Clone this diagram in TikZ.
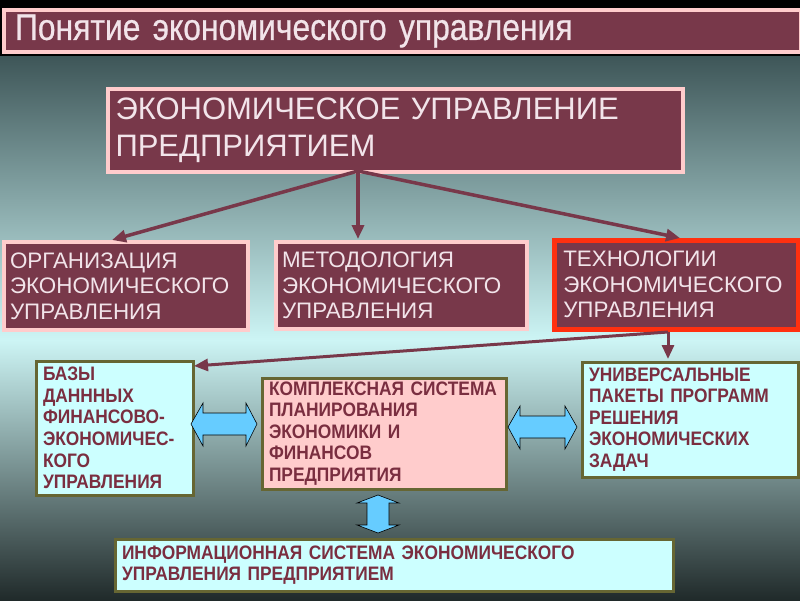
\documentclass[tikz,border=0pt]{standalone}
\usepackage{fontspec}
\setmainfont{Liberation Sans}
\newfontfamily\narrowfont[FakeStretch=0.89]{Liberation Sans}
\newfontfamily\titlefont[FakeStretch=0.86,FakeBold=0.6]{Liberation Sans}
\usetikzlibrary{arrows.meta,calc}
\definecolor{maroonfill}{RGB}{120,56,74}
\definecolor{pinkline}{RGB}{255,204,204}
\definecolor{lighttext}{RGB}{242,228,234}
\definecolor{techred}{RGB}{255,48,16}
\definecolor{cyanfill}{RGB}{204,255,255}
\definecolor{pinkfill}{RGB}{255,204,204}
\definecolor{olive}{RGB}{102,102,51}
\definecolor{darktext}{RGB}{122,46,64}
\definecolor{bgtop}{RGB}{62,86,88}
\definecolor{bgmid}{RGB}{205,245,245}
\definecolor{bgbot}{RGB}{32,42,42}
\definecolor{blockblue}{RGB}{102,204,255}
\tikzset{
  darkbox/.style={draw=pinkline, line width=4pt, fill=maroonfill, text=lighttext,
    anchor=north west, align=left, inner xsep=8pt, inner ysep=0pt},
  lightbox/.style={draw=olive, line width=3pt, fill=cyanfill, text=darktext,
    anchor=north west, align=left, inner xsep=7pt, inner ysep=0pt,
    font=\narrowfont\bfseries\fontsize{19.5}{21.6}\selectfont},
  rowtext/.style={font=\fontsize{22.4}{25.5}\selectfont},
  conn/.style={draw=maroonfill, line width=3.5pt, -{Triangle[length=14pt,width=12pt]}},
  blockarrow/.style={fill=blockblue, draw=black, line width=0.6pt}
}
\begin{document}
\begin{tikzpicture}[x=1pt,y=-1pt]
\useasboundingbox (0,0) rectangle (800,600);
% background
\fill[black] (0,0) rectangle (800,56);
\shade[top color=bgtop, bottom color=bgmid] (0,56) rectangle (800,340);
\shade[top color=bgmid, bottom color=bgbot] (0,340) rectangle (800,600);
% title
\node[darkbox, minimum width=793pt, minimum height=42pt, text width=775pt,
  inner xsep=11pt, text=lighttext,
  font=\titlefont\fontsize{37}{40}\selectfont] (title) at (2,8) {Понятие экономического управления};
% main box
\node[darkbox, minimum width=575pt, minimum height=83pt, text width=560pt,
  inner xsep=7pt, font=\fontsize{31}{37}\selectfont] (main) at (106,87)
  {ЭКОНОМИЧЕСКОЕ УПРАВЛЕНИЕ\\ПРЕДПРИЯТИЕМ};
% second row
\node[darkbox, rowtext, inner xsep=6pt, minimum width=244pt, minimum height=88pt, text width=232pt] (org) at (2,240)
  {ОРГАНИЗАЦИЯ\\ЭКОНОМИЧЕСКОГО\\УПРАВЛЕНИЯ};
\node[darkbox, rowtext, inner xsep=6pt, minimum width=251pt, minimum height=87pt, text width=239pt] (met) at (274,240)
  {МЕТОДОЛОГИЯ\\ЭКОНОМИЧЕСКОГО\\УПРАВЛЕНИЯ};
\node[darkbox, rowtext, inner xsep=9pt, draw=techred, line width=4.5pt, minimum width=244pt, minimum height=89pt, text width=226pt] (tech) at (552,238)
  {ТЕХНОЛОГИИ\\ЭКОНОМИЧЕСКОГО\\УПРАВЛЕНИЯ};
% third row
\node[lightbox, minimum width=157pt, minimum height=134pt, text width=143pt] (db) at (34.5,359.5)
  {БАЗЫ\\ДАНННЫХ\\ФИНАНСОВО-\\ЭКОНОМИЧЕС-\\КОГО\\УПРАВЛЕНИЯ};
\node[lightbox, fill=pinkfill, minimum width=244pt, minimum height=111pt, text width=230pt] (plan) at (260.5,376.5)
  {КОМПЛЕКСНАЯ СИСТЕМА\\ПЛАНИРОВАНИЯ\\ЭКОНОМИКИ И\\ФИНАНСОВ\\ПРЕДПРИЯТИЯ};
\node[lightbox, minimum width=216pt, minimum height=115pt, text width=202pt] (pack) at (580.5,360.5)
  {УНИВЕРСАЛЬНЫЕ\\ПАКЕТЫ ПРОГРАММ\\РЕШЕНИЯ\\ЭКОНОМИЧЕСКИХ\\ЗАДАЧ};
\node[lightbox, minimum width=558pt, minimum height=52pt, text width=544pt] (info) at (113.5,537.5)
  {ИНФОРМАЦИОННАЯ СИСТЕМА ЭКОНОМИЧЕСКОГО\\УПРАВЛЕНИЯ ПРЕДПРИЯТИЕМ};
% connectors
\coordinate (split) at (358,171);
\coordinate (orgtop) at (112,240);
\coordinate (mettop) at (358,239);
\coordinate (techtop) at (680,238);
\coordinate (techout) at (668,332);
\coordinate (dbtop) at (194,366);
\coordinate (packtop) at (668,359);
\draw[conn] (split) -- (orgtop);
\draw[conn] (split) -- (mettop);
\draw[conn] (split) -- (techtop);
\draw[draw=maroonfill, line width=3pt] (tech.south -| techout) -- (techout);
\draw[conn, line width=3pt] (techout) -- (dbtop);
\draw[conn, line width=3pt] (techout) -- (packtop);
% block arrows
\draw[blockarrow] (191,424) -- (203,403) -- (203,413) -- (246,413) -- (246,403) -- (257,424)
  -- (246,446) -- (246,435) -- (203,435) -- (203,446) -- cycle;
\draw[blockarrow] (508,427) -- (520,406) -- (520,416) -- (565,416) -- (565,406) -- (577,427)
  -- (565,449) -- (565,438) -- (520,438) -- (520,449) -- cycle;
\draw[blockarrow] (378,495) -- (399,503) -- (389,503) -- (389,525) -- (399,525) -- (378,533)
  -- (357,525) -- (367,525) -- (367,503) -- (357,503) -- cycle;
\end{tikzpicture}
\end{document}
